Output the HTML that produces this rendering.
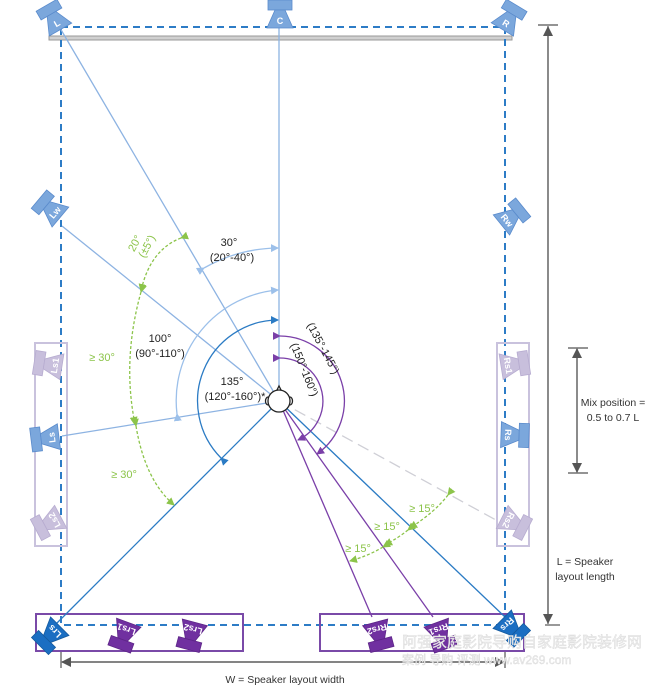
<!DOCTYPE html>
<html><head><meta charset="utf-8"><style>
html,body{margin:0;padding:0;background:#fff;}
svg{display:block;font-family:"Liberation Sans",sans-serif;}
</style></head><body>
<svg width="650" height="689" viewBox="0 0 650 689" xmlns="http://www.w3.org/2000/svg">
<defs>
<marker id="ab" markerWidth="8" markerHeight="8" refX="7" refY="4" orient="auto" markerUnits="userSpaceOnUse"><path d="M0,0 L8,4 L0,8z" fill="#2b7bc4"/></marker>
<marker id="alb" markerWidth="8" markerHeight="8" refX="7" refY="4" orient="auto" markerUnits="userSpaceOnUse"><path d="M0,0 L8,4 L0,8z" fill="#9cc0ea"/></marker>
<marker id="ap" markerWidth="8" markerHeight="8" refX="7" refY="4" orient="auto" markerUnits="userSpaceOnUse"><path d="M0,0 L8,4 L0,8z" fill="#7a3fa8"/></marker>
<marker id="ag" markerWidth="8" markerHeight="8" refX="7" refY="4" orient="auto" markerUnits="userSpaceOnUse"><path d="M0,0 L8,4 L0,8z" fill="#8cc44a"/></marker>
<marker id="ak" markerWidth="10" markerHeight="10" refX="9" refY="5" orient="auto" markerUnits="userSpaceOnUse"><path d="M0,0 L10,5 L0,10z" fill="#555"/></marker>
<g id="spk"><rect x="-12" y="-17" width="24" height="10"/><polygon points="-5,-7 5,-7 13,11 -13,11"/></g>
</defs>

<rect x="49" y="36" width="463" height="4" fill="#d0d0d0" stroke="#999" stroke-width="1"/>
<rect x="61" y="27" width="444" height="598" fill="none" stroke="#2d7cc6" stroke-width="2" stroke-dasharray="7,5"/>

<rect x="35" y="343" width="32" height="203" fill="none" stroke="#c9c2dd" stroke-width="2"/>
<rect x="497" y="343" width="32" height="203" fill="none" stroke="#c9c2dd" stroke-width="2"/>
<rect x="36" y="614" width="207" height="37" fill="none" stroke="#7a4aa8" stroke-width="2"/>
<rect x="320" y="614" width="204" height="37" fill="none" stroke="#7a4aa8" stroke-width="2"/>

<g stroke-width="1.3" fill="none">
<line x1="279" y1="401" x2="60" y2="28" stroke="#8db3e2"/>
<line x1="279" y1="401" x2="279" y2="25" stroke="#8db3e2"/>
<line x1="279" y1="401" x2="62" y2="226" stroke="#8db3e2"/>
<line x1="279" y1="401" x2="62" y2="436" stroke="#8db3e2"/>
<line x1="279" y1="401" x2="55" y2="625" stroke="#2b7bc4"/>
<line x1="279" y1="401" x2="505" y2="617" stroke="#2b7bc4"/>
<line x1="279" y1="401" x2="372" y2="617" stroke="#7a3fa8"/>
<line x1="279" y1="401" x2="433" y2="617" stroke="#7a3fa8"/>
<line x1="279" y1="401" x2="505" y2="525" stroke="#cfcfd6" stroke-dasharray="12,6"/>
</g>

<g fill="none" stroke-width="1.3">
<path d="M204,268 A153,153 0 0 1 278,248" stroke="#9cc0ea" marker-start="url(#alb)" marker-end="url(#alb)"/>
<path d="M177,414 A111,111 0 0 1 278,290" stroke="#9cc0ea" marker-start="url(#alb)" marker-end="url(#alb)"/>
<path d="M221,458 A81,81 0 0 1 278,320" stroke="#2b7bc4" marker-start="url(#ab)" marker-end="url(#ab)"/>
<path d="M280,336 A65,65 0 0 1 317,454" stroke="#7a3fa8" marker-start="url(#ap)" marker-end="url(#ap)"/>
<path d="M280,358 A43,43 0 0 1 298,440" stroke="#7a3fa8" marker-start="url(#ap)" marker-end="url(#ap)"/>
<path d="M181,238 Q150,250 141,291" stroke="#8cc44a" stroke-dasharray="3,2" marker-start="url(#ag)" marker-end="url(#ag)"/>
<path d="M141,292 Q122,360 135,424" stroke="#8cc44a" stroke-dasharray="3,2" marker-start="url(#ag)" marker-end="url(#ag)"/>
<path d="M136,426 Q145,480 174,505" stroke="#8cc44a" stroke-dasharray="3,2" marker-start="url(#ag)" marker-end="url(#ag)"/>
<path d="M448,495 Q435,512 410,528" stroke="#8cc44a" stroke-dasharray="3,2" marker-start="url(#ag)" marker-end="url(#ag)"/>
<path d="M408,530 Q398,538 385,545" stroke="#8cc44a" stroke-dasharray="3,2" marker-start="url(#ag)" marker-end="url(#ag)"/>
<path d="M383,547 Q368,556 350,561" stroke="#8cc44a" stroke-dasharray="3,2" marker-start="url(#ag)" marker-end="url(#ag)"/>
</g>

<g stroke="#222" stroke-width="1.3" fill="#fff">
<path d="M276,392 L279,386 L282,392z"/>
<ellipse cx="268" cy="401" rx="2.5" ry="4"/>
<ellipse cx="290" cy="401" rx="2.5" ry="4"/>
<circle cx="279" cy="401" r="11"/>
</g>

<g font-size="11" fill="#222" text-anchor="middle">
<text x="229" y="246">30°</text><text x="232" y="261">(20°-40°)</text>
<text x="160" y="342">100°</text><text x="160" y="357">(90°-110°)</text>
<text x="232" y="385">135°</text><text x="235" y="400">(120°-160°)*</text>
<text transform="translate(320,350) rotate(62)">(135°-145°)</text>
<text transform="translate(301,371) rotate(68)">(150°-160°)</text>
</g>
<g font-size="11" fill="#8cc44a" text-anchor="middle">
<text transform="translate(138,245) rotate(-62)">20°</text>
<text transform="translate(150,248) rotate(-62)">(±5°)</text>
<text x="102" y="361">≥ 30°</text>
<text x="124" y="478">≥ 30°</text>
<text x="422" y="512">≥ 15°</text>
<text x="387" y="530">≥ 15°</text>
<text x="358" y="552">≥ 15°</text>
</g>

<g font-size="9" font-weight="bold" fill="#fff" text-anchor="middle">
<g transform="translate(55,20) rotate(-30)" fill="#7ba7dc" stroke="#5a8bcc" stroke-width="0.8"><use href="#spk"/><text y="7" fill="#fff" stroke="none">L</text></g>
<g transform="translate(280,17)" fill="#7ba7dc" stroke="#5a8bcc" stroke-width="0.8"><use href="#spk"/><text y="7" fill="#fff" stroke="none">C</text></g>
<g transform="translate(508,20) rotate(31)" fill="#7ba7dc" stroke="#5a8bcc" stroke-width="0.8"><use href="#spk"/><text y="7" fill="#fff" stroke="none">R</text></g>
<g transform="translate(52,210) rotate(-50)" fill="#7ba7dc" stroke="#5a8bcc" stroke-width="0.8"><use href="#spk"/><text y="7" fill="#fff" stroke="none">Lw</text></g>
<g transform="translate(510,218) rotate(51)" fill="#7ba7dc" stroke="#5a8bcc" stroke-width="0.8"><use href="#spk"/><text y="7" fill="#fff" stroke="none">Rw</text></g>
<g transform="translate(51,365) rotate(-81)" fill="#c8bfdc" stroke="#b7acd0" stroke-width="0.8"><use href="#spk"/><text y="7" fill="#fff" stroke="none">Ls1</text></g>
<g transform="translate(48,438) rotate(-97)" fill="#7ba7dc" stroke="#5a8bcc" stroke-width="0.8"><use href="#spk"/><text y="7" fill="#fff" stroke="none">Ls</text></g>
<g transform="translate(51,522) rotate(-118)" fill="#c8bfdc" stroke="#b7acd0" stroke-width="0.8"><use href="#spk"/><text y="7" fill="#fff" stroke="none">Ls2</text></g>
<g transform="translate(512,365) rotate(81)" fill="#c8bfdc" stroke="#b7acd0" stroke-width="0.8"><use href="#spk"/><text y="7" fill="#fff" stroke="none">Rs1</text></g>
<g transform="translate(512,435) rotate(92)" fill="#7ba7dc" stroke="#5a8bcc" stroke-width="0.8"><use href="#spk"/><text y="7" fill="#fff" stroke="none">Rs</text></g>
<g transform="translate(512,522) rotate(117)" fill="#c8bfdc" stroke="#b7acd0" stroke-width="0.8"><use href="#spk"/><text y="7" fill="#fff" stroke="none">Rs2</text></g>
<g transform="translate(52,634) rotate(-135)" fill="#1b6ec2" stroke="#155a9e" stroke-width="0.8"><use href="#spk"/><text y="7" fill="#fff" stroke="none">Lrs</text></g>
<g transform="translate(125,633) rotate(-160)" fill="#7030a0" stroke="#5e2688" stroke-width="0.8"><use href="#spk"/><text y="7" fill="#fff" stroke="none">Lrs1</text></g>
<g transform="translate(192,633) rotate(-165)" fill="#7030a0" stroke="#5e2688" stroke-width="0.8"><use href="#spk"/><text y="7" fill="#fff" stroke="none">Lrs2</text></g>
<g transform="translate(378,633) rotate(165)" fill="#7030a0" stroke="#5e2688" stroke-width="0.8"><use href="#spk"/><text y="7" fill="#fff" stroke="none">Rrs2</text></g>
<g transform="translate(440,633) rotate(160)" fill="#7030a0" stroke="#5e2688" stroke-width="0.8"><use href="#spk"/><text y="7" fill="#fff" stroke="none">Rrs1</text></g>
<g transform="translate(510,627) rotate(135)" fill="#1b6ec2" stroke="#155a9e" stroke-width="0.8"><use href="#spk"/><text y="7" fill="#fff" stroke="none">Rrs</text></g>
</g>

<g stroke="#555" stroke-width="1.2" fill="none">
<line x1="538" y1="25" x2="558" y2="25"/>
<line x1="545" y1="625" x2="560" y2="625"/>
<line x1="548" y1="26" x2="548" y2="623" marker-end="url(#ak)"/>
<line x1="548" y1="624" x2="548" y2="27" marker-end="url(#ak)"/>
<line x1="568" y1="348" x2="588" y2="348"/>
<line x1="568" y1="473" x2="588" y2="473"/>
<line x1="577" y1="349" x2="577" y2="472" marker-end="url(#ak)"/>
<line x1="577" y1="472" x2="577" y2="349" marker-end="url(#ak)"/>
<line x1="61" y1="652" x2="61" y2="668"/>
<line x1="505" y1="652" x2="505" y2="668"/>
<line x1="62" y1="662" x2="504" y2="662" marker-end="url(#ak)"/>
<line x1="504" y1="662" x2="62" y2="662" marker-end="url(#ak)"/>
</g>
<g font-size="10.5" fill="#333" text-anchor="middle">
<text x="613" y="406">Mix position =</text>
<text x="613" y="421">0.5 to 0.7 L</text>
<text x="585" y="565">L = Speaker</text>
<text x="585" y="580">layout length</text>
<text x="285" y="683">W = Speaker layout width</text>
</g>
<g font-family="'Liberation Sans','Noto Sans CJK SC',sans-serif" fill="#f0f0f0" stroke="#d8d8d8" stroke-width="0.4">
<text x="402" y="647" font-size="15">阿强家庭影院导购自家庭影院装修网</text>
<text x="402" y="664" font-size="12">案例 导购 评测   www.av269.com</text>
</g>
</svg>
</body></html>
